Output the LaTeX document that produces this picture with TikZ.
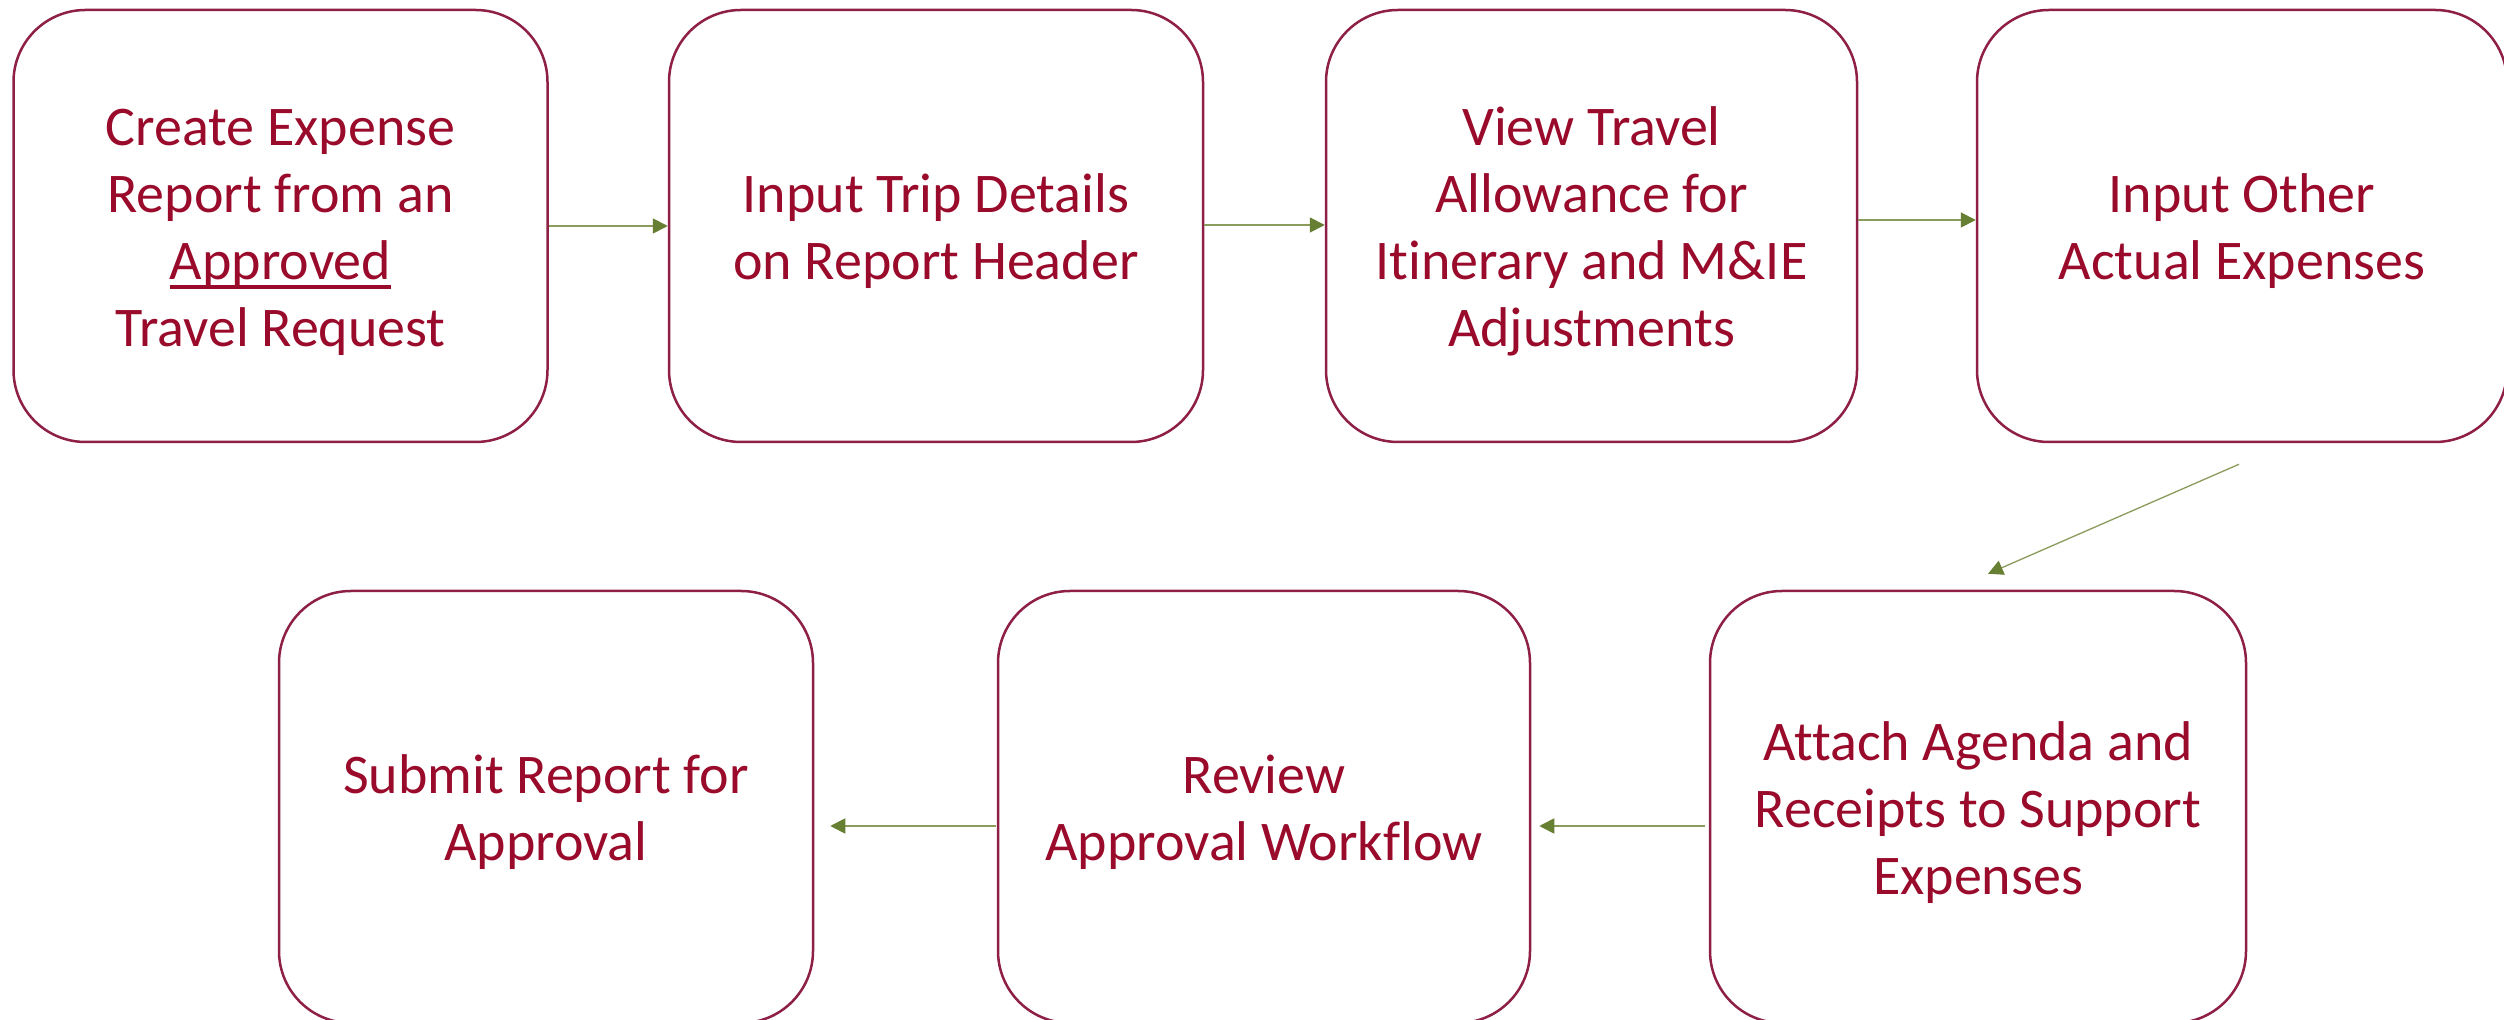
\documentclass[tikz,border=0pt]{standalone}
\usepackage{fontspec}
\setmainfont{Carlito}[Ligatures=NoCommon]
\usetikzlibrary{arrows.meta}
\definecolor{boxline}{HTML}{8E1F47}
\definecolor{txt}{HTML}{990A2B}
\definecolor{flowline}{HTML}{8A9B5C}
\definecolor{flowtip}{HTML}{677F32}
% underline drawn as a rule under the word
\newcommand\ulword[1]{\leavevmode\setbox0\hbox{#1}\rlap{\rule[-9pt]{\wd0}{3.5pt}}\box0}
% fixed first-line height and last-line depth, so every text block sits alike
\newcommand\firststrut{\rule{0pt}{55pt}}
\newcommand\laststrut{\rule[-14pt]{0pt}{14pt}}
\begin{document}
\begin{tikzpicture}[x=1pt,y=1pt,
  stepbox/.style={draw=boxline, line width=2.5pt, rounded corners=72pt,
    minimum width=534pt, minimum height=432pt, inner sep=0pt,
    align=center, text=txt, font=\fontsize{56}{67}\selectfont},
  flow/.style={draw=flowline, line width=1.8pt,
    -{Triangle[length=15pt,width=15pt,color=flowtip]}}]
\clip (0,0) rectangle (2504,1020);
\fill[white] (0,0) rectangle (2504,1020);

% top row
\node[stepbox] (create) at (280.5,794) {\firststrut Create Expense\\Report from an\\\ulword{Approved}\\Travel Request\laststrut};
\node[stepbox] (trip) at (936,794) {\firststrut Input Trip Details\\on Report Header\laststrut};
\node[stepbox, minimum width=531pt] (allow) at (1591.5,794) {\firststrut View Travel\\Allowance for\\Itinerary and M\&IE\\Adjustments\laststrut};
\node[stepbox, minimum width=530pt] (other) at (2242,794) {\firststrut Input Other\\Actual Expenses\laststrut};

% bottom row
\node[stepbox] (submit) at (546,213) {\firststrut Submit Report for\\Approval\laststrut};
\node[stepbox, minimum width=532pt] (review) at (1264,213) {\firststrut Review\\Approval Workflow\laststrut};
\node[stepbox, minimum width=536pt] (attach) at (1978,213) {\firststrut Attach Agenda and\\Receipts to Support\\Expenses\laststrut};

% connectors
\draw[flow] (create.east) -- (trip.west);
\draw[flow] ([yshift=1pt]trip.east) -- ([yshift=1pt]allow.west);
\draw[flow] ([yshift=6pt]allow.east) -- ([yshift=6pt]other.west);
\draw[flow, line width=1.3pt] ([shift={(-3,-21)}]other.south) -- ([shift={(10,16)}]attach.north);
\draw[flow] ([shift={(-4,-19)}]attach.west) -- ([shift={(8,-19)}]review.east);
\draw[flow] ([shift={(-1,-19)}]review.west) -- ([shift={(16,-19)}]submit.east);
\end{tikzpicture}
\end{document}
